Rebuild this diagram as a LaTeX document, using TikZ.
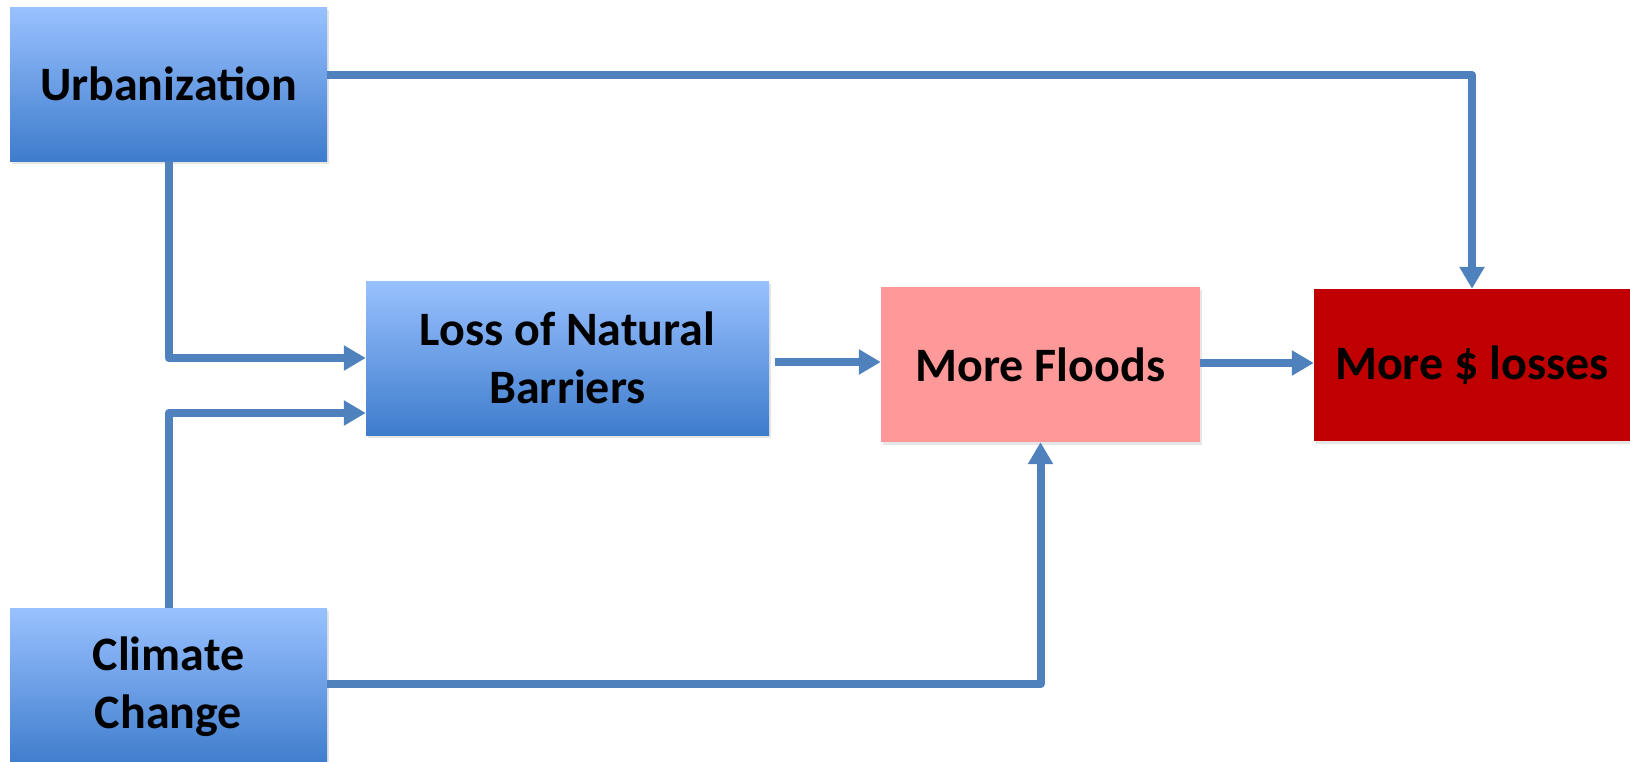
\documentclass[tikz,border=0pt]{standalone}
\usepackage{fontspec}
\setmainfont{Carlito}
\usetikzlibrary{arrows.meta,shadows}
\definecolor{btop}{RGB}{153,193,255}
\definecolor{bbot}{RGB}{62,124,204}
\definecolor{linec}{RGB}{79,129,189}
\definecolor{floodc}{RGB}{255,153,153}
\definecolor{lossc}{RGB}{192,0,0}
\tikzset{
  box/.style={rectangle, inner sep=0pt, align=center, font=\fontsize{48}{58}\selectfont\bfseries,
    drop shadow={shadow xshift=2pt, shadow yshift=-3pt, opacity=0.2}},
  bluebox/.style={box, top color=btop, bottom color=bbot},
  conn/.style={draw=linec, line width=8pt, line join=round, -{Triangle[width=24pt,length=22pt]}},
}
\begin{document}
\begin{tikzpicture}[x=1pt,y=-1pt]
\useasboundingbox (0,0) rectangle (1630,761);
\node[bluebox, minimum width=317pt, minimum height=154pt] (urb) at (168.5,84) {Urbanization};
\node[bluebox, minimum width=403pt, minimum height=154pt] (loss) at (567.5,358) {Loss of Natural\\Barriers};
\node[box, fill=floodc, minimum width=319pt, minimum height=155pt] (flood) at (1040.5,364.5) {More Floods};
\node[box, fill=lossc, minimum width=316pt, minimum height=152pt] (money) at (1472,365) {More \$ losses};
\node[bluebox, minimum width=317pt, minimum height=158pt] (clim) at (168.5,687) {Climate\\Change};
\draw[conn] (urb.east |- 0,75) -| (money.north);
\draw[conn] (urb.south) |- (loss.west |- 0,358);
\draw[conn] (clim.north) |- (loss.west |- 0,413);
\draw[conn, shorten <=6pt] (loss.east |- 0,362) -- (flood.west |- 0,362);
\draw[conn] (flood.east |- 0,363) -- (money.west |- 0,363);
\draw[conn] (clim.east |- 0,684) -| (flood.south);
\end{tikzpicture}
\end{document}
